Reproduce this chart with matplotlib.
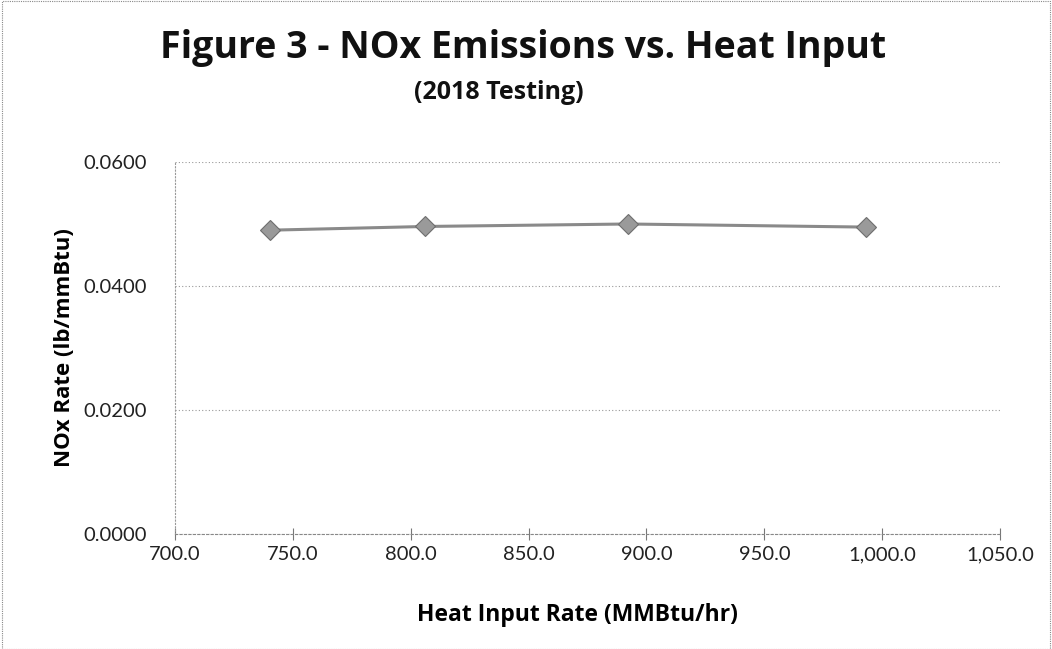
import matplotlib
matplotlib.use("Agg")
import matplotlib.pyplot as plt
from matplotlib.ticker import FuncFormatter
from matplotlib.patches import Rectangle

heat_input = [740.3, 806.1, 892.1, 993.2]
nox_rate = [0.0490, 0.0496, 0.0500, 0.0495]
x_ticks = [700, 750, 800, 850, 900, 950, 1000, 1050]
y_ticks = [0.0, 0.02, 0.04, 0.06]

plt.rcParams['font.family'] = ['Lato', 'DejaVu Sans']
bold_font = ['Open Sans', 'DejaVu Sans']

fig = plt.figure(figsize=(10.52, 6.49), dpi=100)
ax = fig.add_axes([0.1664, 0.1772, 0.7842, 0.5732])

ax.plot(heat_input, nox_rate, color='#8a8a8a', lw=2.2, marker='D', markersize=10,
        markerfacecolor='#9a9a9a', markeredgecolor='#6e6e6e', markeredgewidth=0.8, zorder=3)

ax.set_xlim(700, 1050)
ax.set_ylim(0, 0.06)
ax.set_xticks(x_ticks)
ax.set_yticks(y_ticks)
ax.xaxis.set_major_formatter(FuncFormatter(lambda v, p: f"{v:,.1f}"))
ax.yaxis.set_major_formatter(FuncFormatter(lambda v, p: f"{v:.4f}"))
ax.tick_params(axis='y', labelsize=14.5, colors='#222222', length=0, pad=20)
ax.tick_params(axis='x', labelsize=14.5, labelcolor='#222222', direction='inout', length=8,
               width=0.8, color='#777777', pad=5)

ax.grid(axis='y', color='#999999', linestyle=(0, (1, 2)), linewidth=0.8)
for s in ['top', 'right']:
    ax.spines[s].set_visible(False)
ax.spines['left'].set_color('#999999')
ax.spines['left'].set_linestyle((0, (1, 2)))
ax.spines['bottom'].set_color('#888888')
ax.spines['bottom'].set_linestyle((0, (2, 2)))

ax.set_xlabel('Heat Input Rate (MMBtu/hr)', fontsize=16.5, fontweight='bold',
              family=bold_font)
ax.xaxis.set_label_coords(0.488, -0.185)
ax.set_ylabel('NOx Rate (lb/mmBtu)', fontsize=16, fontweight='bold',
              family=bold_font, labelpad=6)

fig.text(0.497, 0.911, 'Figure 3 - NOx Emissions vs. Heat Input', ha='center', va='baseline',
         fontsize=27, fontweight='bold', color='#111111', family=bold_font)
fig.text(0.4745, 0.848, '(2018 Testing)', ha='center', va='baseline',
         fontsize=18, fontweight='bold', color='#111111', family=bold_font)

fig.patches.append(Rectangle((0.002, 0.0), 0.996, 0.998, transform=fig.transFigure,
                             fill=False, edgecolor='#888888', linewidth=0.8, linestyle=(0, (1, 1))))

fig.savefig('out.png', dpi=100)
